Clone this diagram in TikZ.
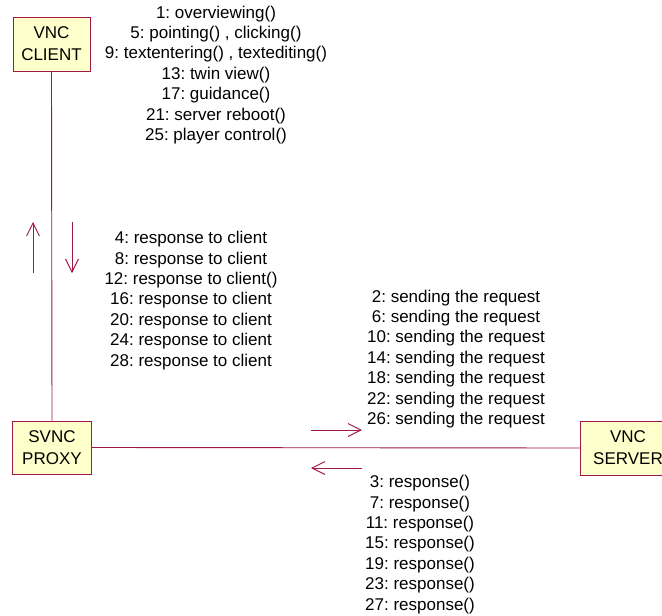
\documentclass[tikz,border=0pt]{standalone}
\usepackage{fontspec}
\setmainfont{Liberation Sans}
\usetikzlibrary{arrows.meta}
\frenchspacing
\definecolor{linkred}{HTML}{A0174A}
\definecolor{objfill}{HTML}{FFFFCC}
\tikzset{
  objbox/.style={draw=linkred, fill=objfill, line width=0.9pt, align=center,
    inner sep=0pt, font=\fontsize{17}{22}\selectfont},
  link/.style={draw=linkred, line width=0.9pt},
  msg/.style={draw=linkred, line width=0.9pt,
    -{Straight Barb[length=13pt,width=13pt,line width=0.9pt]}},
  msglabel/.style={align=center, inner sep=0pt, font=\fontsize{17}{20.4}\selectfont}
}
\begin{document}
\begin{tikzpicture}[x=1pt,y=-1pt]
  \useasboundingbox (0,0) rectangle (662,616);
  \clip (0,0) rectangle (662,616);

  % objects
  \node[objbox, minimum width=77pt, minimum height=54pt] (client) at (51.5,44) {VNC\\CLIENT};
  \node[objbox, minimum width=79pt, minimum height=53pt] (proxy) at (52,447.5) {SVNC\\PROXY};
  \node[objbox, minimum width=96pt, minimum height=54pt] (server) at (628,448) {VNC\\SERVER};

  % links
  \draw[link] (client.south) -- (proxy.north);
  \draw[link] (proxy.east) -- (server.west);

  % message arrows along client link
  \coordinate (upS) at (33,273);
  \coordinate (upE) at (33,222);
  \coordinate (dnS) at (72,222);
  \coordinate (dnE) at (72,273);
  \draw[msg] (upS) -- (upE);
  \draw[msg] (dnS) -- (dnE);

  % message arrows along server link
  \coordinate (rtS) at (311,430);
  \coordinate (rtE) at (362,430);
  \coordinate (ltS) at (362,468);
  \coordinate (ltE) at (311,468);
  \draw[msg] (rtS) -- (rtE);
  \draw[msg] (ltS) -- (ltE);

  % message labels
  \node[msglabel] (calls) at (216,75) {1: overviewing()\\5: pointing() , clicking()\\9: textentering() , textediting()\\13: twin view()\\17: guidance()\\21: server reboot()\\25: player control()};
  \node[msglabel] (toclient) at (191,300.5) {4: response to client\\8: response to client\\12: response to client()\\16: response to client\\20: response to client\\24: response to client\\28: response to client};
  \node[msglabel] (requests) at (456,359) {2: sending the request\\6: sending the request\\10: sending the request\\14: sending the request\\18: sending the request\\22: sending the request\\26: sending the request};
  \node[msglabel] (responses) at (420,544.5) {3: response()\\7: response()\\11: response()\\15: response()\\19: response()\\23: response()\\27: response()};
\end{tikzpicture}
\end{document}
